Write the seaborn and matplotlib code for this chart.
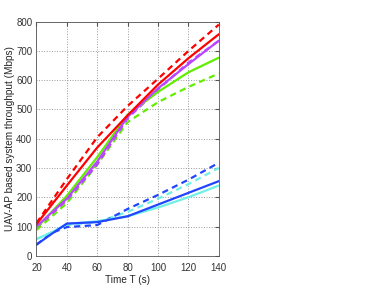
import numpy as np
import pandas as pd
import matplotlib
matplotlib.use("Agg")
import matplotlib.pyplot as plt
import seaborn as sns

# ===== data =====
t = [20, 40, 60, 80, 100, 120, 140]
t_low = [20, 30, 40, 60, 80, 100, 120, 140]

red_solid = [108, 240, 370, 480, 585, 675, 757]
red_dash = [112, 262, 405, 512, 605, 700, 790]
purple_solid = [100, 195, 322, 475, 572, 655, 735]
purple_dash = [95, 190, 312, 470, 568, 660, 735]
green_solid = [95, 205, 337, 482, 560, 627, 677]
green_dash = [88, 180, 312, 457, 525, 577, 623]

blue_solid = [38, 75, 110, 115, 135, 175, 215, 255]
blue_dash = [38, 78, 98, 105, 160, 208, 260, 318]
cyan_solid = [57, 80, 108, 118, 135, 165, 200, 240]
cyan_dash = [57, 80, 105, 115, 150, 195, 245, 300]

series = [
    ("red_s", t, red_solid, "#ff0000", "-"),
    ("red_d", t, red_dash, "#ff0000", "--"),
    ("purple_s", t, purple_solid, "#b845ff", "-"),
    ("purple_d", t, purple_dash, "#b845ff", "--"),
    ("green_s", t, green_solid, "#62ee00", "-"),
    ("green_d", t, green_dash, "#62ee00", "--"),
    ("blue_s", t_low, blue_solid, "#2244ff", "-"),
    ("blue_d", t_low, blue_dash, "#2244ff", "--"),
    ("cyan_s", t_low, cyan_solid, "#6ff0e4", "-"),
    ("cyan_d", t_low, cyan_dash, "#6ff0e4", "--"),
]

rows = []
for name, xs, ys, c, ls in series:
    for x, y in zip(xs, ys):
        rows.append({"T": x, "thr": y, "name": name})
df = pd.DataFrame(rows)

sns.set_style("white")
plt.rcParams["font.family"] = ["Liberation Sans", "DejaVu Sans"]

fig = plt.figure(figsize=(3.88, 2.89), dpi=100)
ax = fig.add_axes([0.094, 0.115, 0.470, 0.810])

# draw the lower (blue / cyan) first, then the upper bunch
order = ["cyan_d", "blue_d", "cyan_s", "blue_s",
         "green_d", "purple_d", "green_s", "purple_s", "red_d", "red_s"]
styles = {n: (c, ls) for n, _, _, c, ls in series}
for n in order:
    c, ls = styles[n]
    sns.lineplot(data=df[df["name"] == n], x="T", y="thr", ax=ax,
                 color=c, linewidth=1.6, legend=False)
    if ls == "--":
        ax.lines[-1].set_dashes([2.8, 2.0])

ax.set_xlim(20, 140)
ax.set_ylim(0, 800)
ax.set_xticks(range(20, 141, 20))
ax.set_yticks(range(0, 801, 100))
ax.grid(True, linestyle=":", color="#9a9a9a", linewidth=0.7)
ax.tick_params(direction="in", length=3, labelsize=7, colors="#555555",
               labelcolor="#333333", top=True, right=True)
ax.tick_params(axis="x", pad=5)
ax.tick_params(axis="y", pad=3)
for s in ax.spines.values():
    s.set_color("#555555")
    s.set_linewidth(0.6)
ax.set_xlabel("Time T (s)", fontsize=7.2, color="#262626", labelpad=2)
ax.set_ylabel("UAV-AP based system throughput (Mbps)", fontsize=7.2,
              color="#262626", labelpad=1)

fig.savefig("out.png", dpi=100)
